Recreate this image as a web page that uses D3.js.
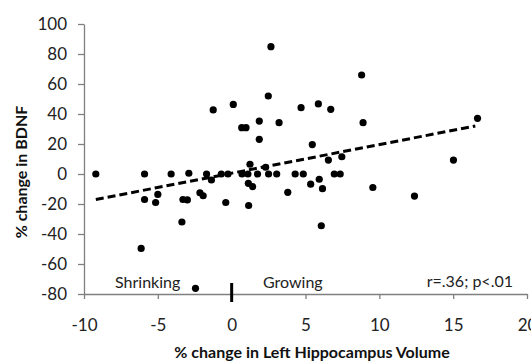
<!DOCTYPE html>
<html>
<head>
<meta charset="utf-8">
<script src="https://cdn.jsdelivr.net/npm/d3@7"></script>
<style>
  body { margin: 0; background: #fff; }
  svg { display: block; font-family: Lato, "Open Sans", sans-serif; }
</style>
</head>
<body>
<div id="chart"></div>
<script>
// % change in left hippocampus volume
var volumeChange = [
  -9.2, -5.9, -4.1, -2.9, -1.7, -0.7, -0.25, 0.7, 1.1, 1.75, 2.5, 3.05, 4.3, 4.85, 6.95, 7.35,
  -1.37, -5.9, -5.0, -5.15, -3.3, -3.0, -2.15, -1.93, -3.37, -6.13, -0.4, 1.15, 1.13, 1.42,
  3.8, 5.35, 5.93, 6.15, 6.07, 9.56, 12.38, -2.45, 1.24, 6.55, 7.46, 15.02, 16.65, 8.8,
  8.9, 2.66, 2.48, -1.25, 0.11, 4.7, 5.87, 6.71, 0.68, 0.97, 1.87, 3.21, 1.87, 5.46, 2.3
];
// % change in BDNF
var bdnfChange = [
  0, 0, 0, 0.5, 0, 0, 0, 0, 0, 0, 0, 0, 0, 0, 0, 0,
  -4, -17, -13.6, -19, -17, -17.3, -12.5, -14.5, -32, -49.6, -19, -21, -6.2, -8.4,
  -12.2, -6.8, -3.5, -9.8, -34.5, -9, -14.7, -76.2, 6.5, 9.3, 11.5, 9.3, 37.1, 66,
  34.2, 84.9, 52, 42.7, 46.4, 44.2, 46.7, 43.1, 30.9, 30.9, 35.3, 34.2, 23.1, 19.6, 4.5
];
// linear trend line end points
var trendX = [-9.2, 16.5];
var trendY = [-17, 32];

var xTicks = [-10, -5, 0, 5, 10, 15, 20];
var yTicks = [-80, -60, -40, -20, 0, 20, 40, 60, 80, 100];

var width = 531, height = 361;

var svg = d3.select("#chart")
  .append("svg")
  .attr("width", width)
  .attr("height", height);

var x = d3.scaleLinear().domain([-10, 20]).range([84, 527]);
var y = d3.scaleLinear().domain([-80, 100]).range([294, 24]);

// plain hyphen for negatives, like the original
var fmt = function(d) { return String(d); };

//y axis
var yAxis = svg.append("g")
  .attr("transform", "translate(" + x(-10) + ",0)")
  .call(d3.axisLeft(y).tickValues(yTicks).tickFormat(fmt)
    .tickSize(6).tickSizeOuter(0).tickPadding(11));

//x axis
var xAxis = svg.append("g")
  .attr("transform", "translate(0," + y(-80) + ")")
  .call(d3.axisBottom(x).tickValues(xTicks).tickFormat(fmt)
    .tickSize(5).tickSizeOuter(0).tickPadding(20));

svg.selectAll(".domain, .tick line")
  .attr("stroke", "#7f7f7f")
  .attr("stroke-width", 1.3);
svg.selectAll(".tick text")
  .attr("fill", "#222")
  .style("font-size", "17px")
  .style("font-family", "Lato, sans-serif");

//points
var points = volumeChange.map(function(v, i) {
  return { x: v, y: bdnfChange[i] };
});
svg.append("g")
  .selectAll("circle")
  .data(points)
  .enter()
  .append("circle")
  .attr("cx", function(d) { return x(d.x); })
  .attr("cy", function(d) { return y(d.y); })
  .attr("r", 3.6)
  .attr("fill", "#000");

//trend line
svg.append("path")
  .datum(trendX.map(function(v, i) { return [v, trendY[i]]; }))
  .attr("fill", "none")
  .attr("stroke", "#000")
  .attr("stroke-width", 3)
  .attr("stroke-dasharray", "8,4")
  .attr("d", d3.line()
    .x(function(d) { return x(d[0]); })
    .y(function(d) { return y(d[1]); }));

//zero marker
svg.append("line")
  .attr("x1", x(0))
  .attr("x2", x(0))
  .attr("y1", y(-80) - 11)
  .attr("y2", y(-80) + 8)
  .attr("stroke", "#000")
  .attr("stroke-width", 3);

//annotations
svg.append("text")
  .attr("x", 115)
  .attr("y", 288)
  .style("font-size", "16px")
  .attr("fill", "#222")
  .text("Shrinking");
svg.append("text")
  .attr("x", 263)
  .attr("y", 288)
  .style("font-size", "16px")
  .attr("fill", "#222")
  .text("Growing");
svg.append("text")
  .attr("x", 513)
  .attr("y", 287)
  .attr("text-anchor", "end")
  .style("font-size", "16px")
  .attr("fill", "#222")
  .text("r=.36; p<.01");

//axis titles
svg.append("text")
  .attr("x", 312)
  .attr("y", 358)
  .attr("text-anchor", "middle")
  .style("font-size", "16px")
  .style("font-weight", "bold")
  .attr("fill", "#111")
  .text("% change in Left Hippocampus Volume");
svg.append("text")
  .attr("transform", "translate(27,172) rotate(-90)")
  .attr("text-anchor", "middle")
  .style("font-size", "16px")
  .style("font-weight", "bold")
  .attr("fill", "#111")
  .text("% change in BDNF");
</script>
</body>
</html>
